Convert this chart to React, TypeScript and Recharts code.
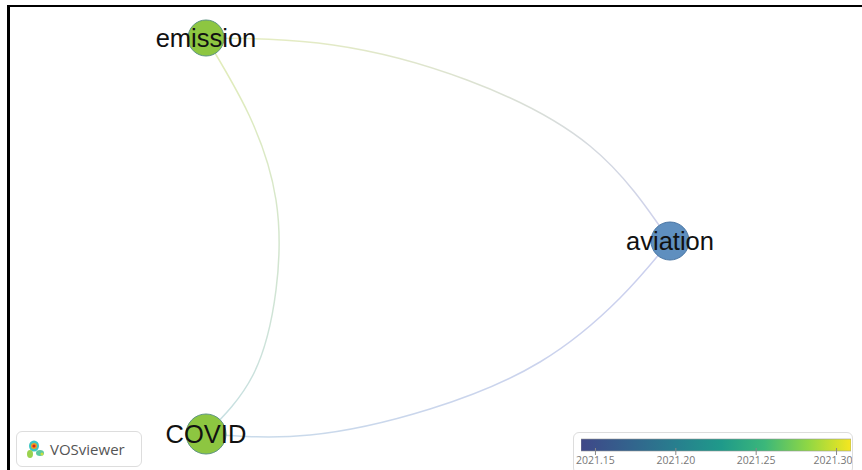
import { ScatterChart, Scatter, XAxis, YAxis, BarChart, Bar } from 'recharts';

// nodes of the map (layout coordinates, y grows downward)
const NODE_LABELS = ['emission', 'aviation', 'COVID'];
const NODE_X = [206, 670, 206];
const NODE_Y = [38, 241, 434];

// points read along each curved link
const LINK_EMISSION_AVIATION = [
  [206, 38], [333, 45], [467, 80], [590, 146], [670, 241],
];
const LINK_EMISSION_COVID = [
  [206, 38], [249, 115], [276, 200], [276, 290], [253, 375], [206, 434],
];
const LINK_COVID_AVIATION = [
  [206, 434], [310, 435], [430, 409], [540, 362], [620, 298], [670, 241],
];

// overlay colour scale (avg. pub. year)
const SCALE_RANGE = [2021.141, 2021.309];
const SCALE_TICKS = [2021.15, 2021.2, 2021.25, 2021.3];

const nodes = NODE_LABELS.map((label, i) => ({ label, x: NODE_X[i], y: NODE_Y[i] }));
const toPts = (arr: number[][]) => arr.map(([x, y]) => ({ x, y }));
const scaleData = [{ name: 'year', range: SCALE_RANGE }];

const NODE_STYLE: Record<string, { r: number; fill: string; stroke: string }> = {
  emission: { r: 18, fill: '#8dc641', stroke: '#5f9583' },
  aviation: { r: 19, fill: '#5f8fbf', stroke: '#4a76a4' },
  COVID: { r: 20, fill: '#8dc641', stroke: '#5f9583' },
};

const NodeShape = (props: any) => {
  const { cx, cy, payload } = props;
  const s = NODE_STYLE[payload.label];
  return (
    <g>
      <circle cx={cx} cy={cy} r={s.r} fill={s.fill} stroke={s.stroke} strokeWidth={1} />
      <text
        x={cx}
        y={cy + 9}
        textAnchor="middle"
        fontFamily="'Liberation Sans', Arial, sans-serif"
        fontSize={25.5}
        fill="#111"
      >
        {payload.label}
      </text>
    </g>
  );
};

const NoDot = () => <g />;

const Logo = () => (
  <div
    style={{
      position: 'absolute', left: 16, top: 431, width: 124, height: 34,
      border: '1px solid #ddd', borderRadius: 6, background: '#fff',
      display: 'flex', alignItems: 'center',
    }}
  >
    <svg width={22} height={22} style={{ marginLeft: 8 }}>
      <ellipse cx={9} cy={8} rx={5} ry={5.5} fill="#3cc6c3" />
      <ellipse cx={15} cy={15} rx={4} ry={3} fill="#5cc9a0" />
      <ellipse cx={5} cy={16} rx={3} ry={4} fill="#9ad24e" />
      <circle cx={9} cy={8} r={3} fill="#f0a020" />
      <circle cx={9} cy={8} r={1.6} fill="#d8231f" />
      <circle cx={17} cy={16} r={1.5} fill="#c8e040" />
    </svg>
    <span style={{ fontFamily: "'Open Sans', sans-serif", fontSize: 15, color: '#555', marginLeft: 3 }}>
      VOSviewer
    </span>
  </div>
);

// tick mark + label; the last label is kept inside the legend box
const ScaleTick = (props: any) => {
  const { x, y, payload } = props;
  const cx = Math.min(x, 259);
  return (
    <g>
      <line x1={x} x2={x} y1={y - 10} y2={y - 3} stroke="#888" strokeWidth={1} />
      <text
        x={cx}
        y={y + 6}
        textAnchor="middle"
        fontSize={10.5}
        fill="#777"
        fontFamily="'Open Sans', sans-serif"
      >
        {Number(payload.value).toFixed(2)}
      </text>
    </g>
  );
};

const ColorScale = () => (
  <div
    style={{
      position: 'absolute', left: 573, top: 432, width: 278, height: 40,
      border: '1px solid #ddd', borderRadius: 6, background: '#fff',
    }}
  >
    <BarChart
      width={278}
      height={38}
      data={scaleData}
      layout="vertical"
      margin={{ top: 5, right: 1, left: 7, bottom: 0 }}
    >
      <defs>
        <linearGradient id="viridis" x1="0" y1="0" x2="1" y2="0">
          <stop offset="0%" stopColor="#3f4788" />
          <stop offset="18%" stopColor="#33638d" />
          <stop offset="36%" stopColor="#27808e" />
          <stop offset="52%" stopColor="#1f9a8a" />
          <stop offset="68%" stopColor="#3bb77a" />
          <stop offset="84%" stopColor="#8fd744" />
          <stop offset="100%" stopColor="#f6e61f" />
        </linearGradient>
      </defs>
      <XAxis
        type="number"
        domain={SCALE_RANGE}
        ticks={SCALE_TICKS}
        interval={0}
        allowDataOverflow
        height={20}
        axisLine={false}
        tickSize={5}
        tickLine={false}
        tick={<ScaleTick />}
      />
      <YAxis type="category" dataKey="name" hide />
      <Bar
        dataKey="range"
        fill="url(#viridis)"
        stroke="#999"
        strokeWidth={0.6}
        barSize={12}
        isAnimationActive={false}
      />
    </BarChart>
  </div>
);

export default function App() {
  return (
    <div style={{ position: 'absolute', left: 0, top: 0, width: 862, height: 470, background: '#fff', overflow: 'hidden' }}>
      <ScatterChart width={862} height={470} margin={{ top: 0, right: 0, bottom: 0, left: 0 }}>
        <defs>
          <linearGradient id="edgeTop" x1="0" y1="0" x2="1" y2="1">
            <stop offset="0%" stopColor="#e6eebf" />
            <stop offset="100%" stopColor="#cdd0ee" />
          </linearGradient>
          <linearGradient id="edgeLeft" x1="0" y1="0" x2="0" y2="1">
            <stop offset="0%" stopColor="#e3edb8" />
            <stop offset="100%" stopColor="#c6dfe3" />
          </linearGradient>
          <linearGradient id="edgeBottom" x1="0" y1="0" x2="1" y2="0">
            <stop offset="0%" stopColor="#c9dcea" />
            <stop offset="100%" stopColor="#cbcfee" />
          </linearGradient>
        </defs>
        <XAxis type="number" dataKey="x" domain={[0, 862]} hide />
        <YAxis type="number" dataKey="y" domain={[0, 470]} reversed hide />
        <Scatter
          data={toPts(LINK_EMISSION_AVIATION)}
          line={{ stroke: 'url(#edgeTop)', strokeWidth: 1.5 }}
          lineJointType="natural"
          shape={NoDot}
          isAnimationActive={false}
        />
        <Scatter
          data={toPts(LINK_EMISSION_COVID)}
          line={{ stroke: 'url(#edgeLeft)', strokeWidth: 1.5 }}
          lineJointType="natural"
          shape={NoDot}
          isAnimationActive={false}
        />
        <Scatter
          data={toPts(LINK_COVID_AVIATION)}
          line={{ stroke: 'url(#edgeBottom)', strokeWidth: 1.5 }}
          lineJointType="natural"
          shape={NoDot}
          isAnimationActive={false}
        />
        <Scatter data={nodes} shape={NodeShape} isAnimationActive={false} />
      </ScatterChart>
      <div style={{ position: 'absolute', left: 7, top: 5, width: 855, height: 2, background: '#000' }} />
      <div style={{ position: 'absolute', left: 7, top: 5, width: 3, height: 465, background: '#000' }} />
      <Logo />
      <ColorScale />
    </div>
  );
}
